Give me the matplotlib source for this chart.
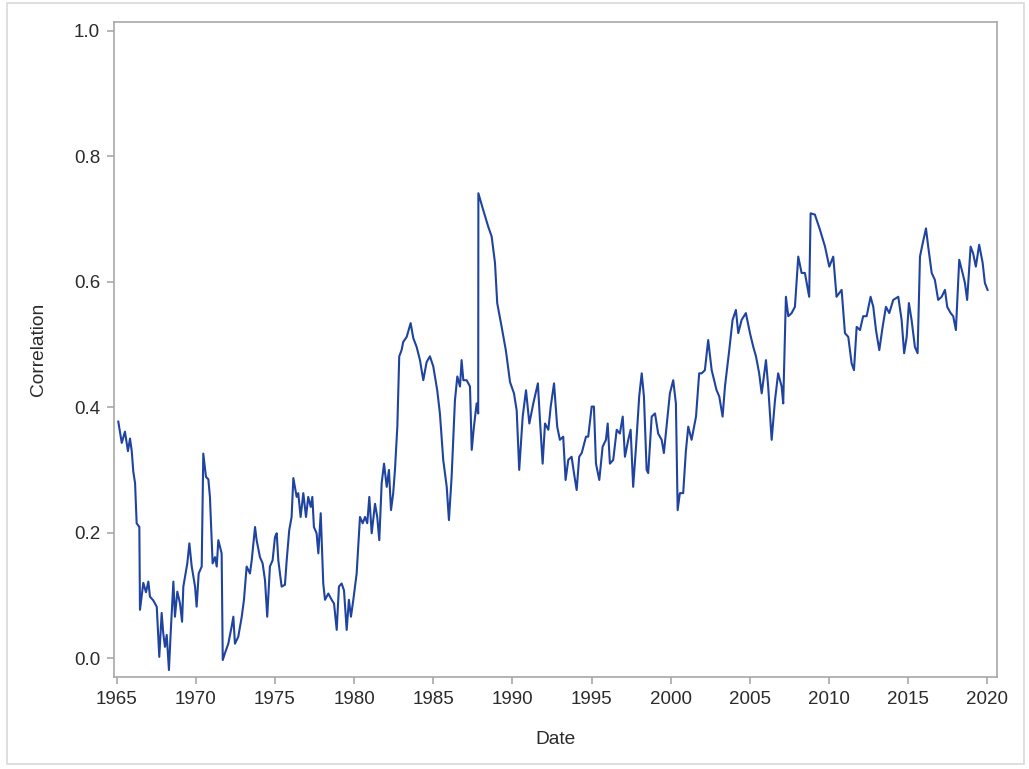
import matplotlib
matplotlib.use("Agg")
import matplotlib.pyplot as plt
from matplotlib.patches import Rectangle

# rolling correlation, values
years = [
    1965.10, 1965.32, 1965.52, 1965.71, 1965.84, 1965.95, 1966.05, 1966.16, 1966.26, 1966.43,
    1966.47, 1966.68, 1966.85, 1967.00, 1967.10, 1967.31, 1967.53, 1967.69, 1967.84, 1967.94,
    1968.05, 1968.16, 1968.30, 1968.41, 1968.58, 1968.68, 1968.83, 1969.00, 1969.13, 1969.21,
    1969.46, 1969.59, 1969.74, 1969.95, 1970.05, 1970.18, 1970.37, 1970.47, 1970.64, 1970.79,
    1970.89, 1971.06, 1971.21, 1971.32, 1971.42, 1971.63, 1971.70, 1971.84, 1972.05, 1972.26,
    1972.37, 1972.47, 1972.68, 1972.90, 1973.04, 1973.21, 1973.42, 1973.53, 1973.74, 1973.84,
    1974.05, 1974.22, 1974.37, 1974.51, 1974.68, 1974.85, 1975.00, 1975.11, 1975.21, 1975.42,
    1975.63, 1975.74, 1975.90, 1976.05, 1976.16, 1976.37, 1976.47, 1976.62, 1976.79, 1976.96,
    1977.10, 1977.26, 1977.36, 1977.46, 1977.63, 1977.74, 1977.89, 1978.05, 1978.16, 1978.37,
    1978.58, 1978.73, 1978.90, 1979.04, 1979.21, 1979.36, 1979.53, 1979.67, 1979.80, 1979.95,
    1980.16, 1980.37, 1980.54, 1980.69, 1980.83, 1980.96, 1981.11, 1981.32, 1981.46, 1981.59,
    1981.74, 1981.89, 1982.06, 1982.20, 1982.33, 1982.47, 1982.58, 1982.73, 1982.85, 1983.00,
    1983.10, 1983.32, 1983.57, 1983.74, 1983.95, 1984.16, 1984.37, 1984.58, 1984.79, 1985.00,
    1985.25, 1985.42, 1985.63, 1985.85, 1985.99, 1986.16, 1986.37, 1986.52, 1986.69, 1986.79,
    1986.90, 1987.11, 1987.32, 1987.43, 1987.57, 1987.74, 1987.84, 1987.85, 1988.16, 1988.47,
    1988.69, 1988.90, 1989.04, 1989.32, 1989.59, 1989.85, 1990.10, 1990.27, 1990.43, 1990.65,
    1990.86, 1991.07, 1991.32, 1991.61, 1991.74, 1991.91, 1992.06, 1992.27, 1992.42, 1992.63,
    1992.83, 1993.00, 1993.21, 1993.36, 1993.53, 1993.74, 1993.89, 1994.06, 1994.22, 1994.38,
    1994.65, 1994.79, 1995.01, 1995.15, 1995.28, 1995.49, 1995.70, 1995.91, 1996.02, 1996.16,
    1996.37, 1996.59, 1996.79, 1996.97, 1997.11, 1997.32, 1997.47, 1997.63, 1997.81, 1998.01,
    1998.17, 1998.31, 1998.48, 1998.58, 1998.80, 1999.01, 1999.21, 1999.43, 1999.57, 1999.74,
    1999.95, 2000.16, 2000.33, 2000.44, 2000.58, 2000.79, 2000.96, 2001.11, 2001.32, 2001.60,
    2001.80, 2001.96, 2002.16, 2002.37, 2002.59, 2002.90, 2003.07, 2003.28, 2003.43, 2003.70,
    2003.91, 2004.12, 2004.27, 2004.48, 2004.75, 2005.01, 2005.22, 2005.39, 2005.59, 2005.75,
    2006.02, 2006.16, 2006.38, 2006.59, 2006.79, 2007.01, 2007.11, 2007.28, 2007.43, 2007.64,
    2007.85, 2008.06, 2008.27, 2008.48, 2008.75, 2008.84, 2009.11, 2009.43, 2009.75, 2010.02,
    2010.27, 2010.48, 2010.80, 2011.01, 2011.22, 2011.43, 2011.58, 2011.75, 2011.96, 2012.16,
    2012.38, 2012.63, 2012.80, 2012.97, 2013.18, 2013.39, 2013.60, 2013.81, 2014.06, 2014.38,
    2014.59, 2014.75, 2014.91, 2015.05, 2015.22, 2015.43, 2015.60, 2015.75, 2015.92, 2016.13,
    2016.27, 2016.49, 2016.69, 2016.90, 2017.12, 2017.33, 2017.47, 2017.69, 2017.85, 2018.02,
    2018.23, 2018.44, 2018.59, 2018.73, 2018.95, 2019.11, 2019.28, 2019.49, 2019.71, 2019.85,
    2020.02,
]

corr = [
    0.377, 0.343, 0.361, 0.330, 0.350, 0.330, 0.297, 0.279, 0.215, 0.209,
    0.077, 0.120, 0.105, 0.122, 0.098, 0.092, 0.082, 0.002, 0.072, 0.040,
    0.018, 0.037, -0.019, 0.040, 0.122, 0.066, 0.106, 0.087, 0.058, 0.114,
    0.151, 0.183, 0.146, 0.114, 0.082, 0.135, 0.146, 0.326, 0.289, 0.285,
    0.257, 0.151, 0.161, 0.146, 0.188, 0.167, -0.003, 0.008, 0.023, 0.050,
    0.066, 0.023, 0.034, 0.066, 0.093, 0.146, 0.135, 0.156, 0.209, 0.188,
    0.161, 0.151, 0.124, 0.066, 0.146, 0.156, 0.193, 0.199, 0.156, 0.114,
    0.117, 0.156, 0.204, 0.225, 0.287, 0.257, 0.263, 0.225, 0.263, 0.225,
    0.257, 0.241, 0.257, 0.209, 0.199, 0.167, 0.231, 0.119, 0.093, 0.103,
    0.093, 0.087, 0.045, 0.114, 0.119, 0.108, 0.045, 0.093, 0.066, 0.093,
    0.135, 0.225, 0.215, 0.225, 0.215, 0.257, 0.199, 0.246, 0.225, 0.188,
    0.279, 0.310, 0.273, 0.300, 0.236, 0.263, 0.300, 0.369, 0.481, 0.491,
    0.504, 0.512, 0.534, 0.510, 0.496, 0.475, 0.443, 0.472, 0.481, 0.465,
    0.427, 0.390, 0.316, 0.273, 0.220, 0.289, 0.411, 0.449, 0.433, 0.475,
    0.443, 0.443, 0.433, 0.332, 0.369, 0.406, 0.390, 0.741, 0.714, 0.688,
    0.672, 0.630, 0.566, 0.528, 0.490, 0.440, 0.422, 0.395, 0.300, 0.385,
    0.427, 0.374, 0.406, 0.438, 0.380, 0.310, 0.374, 0.364, 0.401, 0.438,
    0.369, 0.348, 0.353, 0.284, 0.316, 0.321, 0.295, 0.268, 0.321, 0.327,
    0.353, 0.353, 0.401, 0.401, 0.310, 0.284, 0.337, 0.348, 0.374, 0.310,
    0.316, 0.364, 0.358, 0.385, 0.321, 0.348, 0.364, 0.273, 0.337, 0.417,
    0.454, 0.417, 0.300, 0.295, 0.385, 0.390, 0.358, 0.348, 0.327, 0.369,
    0.422, 0.443, 0.406, 0.236, 0.263, 0.263, 0.330, 0.369, 0.348, 0.385,
    0.454, 0.454, 0.459, 0.507, 0.459, 0.427, 0.417, 0.385, 0.433, 0.491,
    0.539, 0.555, 0.518, 0.539, 0.550, 0.518, 0.496, 0.481, 0.454, 0.422,
    0.475, 0.433, 0.348, 0.411, 0.454, 0.433, 0.406, 0.576, 0.545, 0.550,
    0.560, 0.640, 0.614, 0.614, 0.576, 0.709, 0.707, 0.683, 0.656, 0.624,
    0.640, 0.576, 0.587, 0.518, 0.512, 0.470, 0.459, 0.528, 0.523, 0.545,
    0.545, 0.576, 0.560, 0.523, 0.491, 0.528, 0.560, 0.550, 0.571, 0.576,
    0.539, 0.486, 0.512, 0.566, 0.539, 0.496, 0.486, 0.640, 0.661, 0.685,
    0.656, 0.614, 0.603, 0.571, 0.576, 0.587, 0.560, 0.550, 0.545, 0.523,
    0.635, 0.614, 0.598, 0.571, 0.656, 0.645, 0.624, 0.659, 0.630, 0.598,
    0.587,
]

x_ticks = [1965, 1970, 1975, 1980, 1985, 1990, 1995, 2000, 2005, 2010, 2015, 2020]
y_ticks = [0.0, 0.2, 0.4, 0.6, 0.8, 1.0]

plt.rcParams['font.family'] = ['Liberation Sans', 'DejaVu Sans']

fig = plt.figure(figsize=(10.29, 7.69), dpi=100)
fig.patch.set_facecolor('white')
fig.patches.append(Rectangle((0.0065, 0.006), 0.9885, 0.99, transform=fig.transFigure,
                             fill=False, edgecolor='#d9d9d9', linewidth=1.2))

ax = fig.add_axes([0.1108, 0.1197, 0.858, 0.8517])
ax.plot(years, corr, color='#1f43a0', linewidth=1.5)

ax.set_xlim(1964.83, 2020.61)
ax.set_ylim(-0.03, 1.014)
ax.set_xticks(x_ticks)
ax.set_xticklabels([str(y) for y in x_ticks])
ax.set_yticks(y_ticks)
ax.set_yticklabels(['%.1f' % v for v in y_ticks])

for s in ax.spines.values():
    s.set_color('#a8a8a8')
    s.set_linewidth(1.2)
ax.tick_params(axis='both', colors='#a8a8a8', labelcolor='#2b2b2b', labelsize=13.5,
               length=5, width=1.2, pad=5)

ax.set_xlabel('Date', fontsize=13.8, color='#2b2b2b', labelpad=17)
ax.set_ylabel('Correlation', fontsize=13.8, color='#2b2b2b', labelpad=19)

fig.savefig('out.png', dpi=100)
